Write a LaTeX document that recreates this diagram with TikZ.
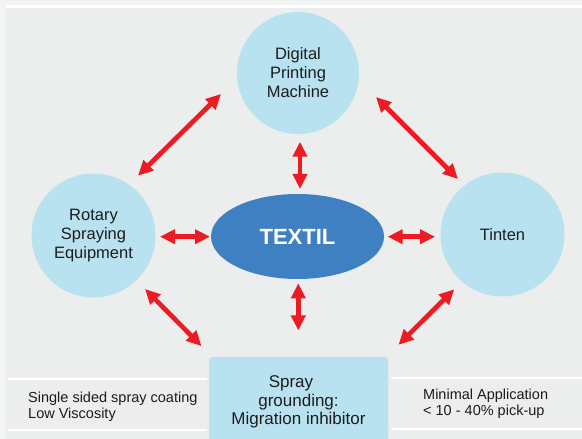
\documentclass[tikz,border=0pt]{standalone}
\usepackage{fontspec}
\setmainfont{Liberation Sans}
\usetikzlibrary{arrows.meta,calc,shapes.geometric}

\definecolor{panelgrey}{RGB}{236,237,237}
\definecolor{outergrey}{RGB}{242,243,243}
\definecolor{bubbleblue}{RGB}{185,226,240}
\definecolor{coreblue}{RGB}{62,128,193}
\definecolor{arrowred}{RGB}{237,28,36}
\definecolor{ink}{RGB}{28,28,28}

\begin{document}
\begin{tikzpicture}[x=1pt,y=1pt,
  bubble/.style={circle,fill=bubbleblue,inner sep=0pt,minimum size=124pt,
    align=center,text=ink,font=\fontsize{16.5}{19}\selectfont},
  link/.style={arrowred,line width=4.7pt,
    {Triangle[length=15pt,width=14pt]}-{Triangle[length=15pt,width=14pt]}},
  rulerline/.style={white,line width=2pt},
  note/.style={anchor=west,align=left,text=ink,inner sep=0pt,
    font=\fontsize{14.5}{16.5}\selectfont}]

\useasboundingbox (0,0) rectangle (582,439);

% background, panel and the thin white rules
\fill[outergrey] (0,0) rectangle (582,439);
\fill[white] (6,431) rectangle (582,434.3);
\fill[panelgrey] (6,0) rectangle (582,431);
\draw[rulerline] (8,60) -- (207,60);
\draw[rulerline] (8,9) -- (207,9);
\draw[rulerline] (391,61.3) -- (582,61.3);
\draw[rulerline] (391,10) -- (582,10);

% the four partners and the centre
\node[bubble,minimum size=122pt] (dpm) at (298,366) {Digital\\Printing\\Machine};
\node[bubble] (rot) at (93.5,203.5) {Rotary\\Spraying\\Equipment};
\node[bubble] (tin) at (502.5,204.5) {Tinten};
\node[ellipse,fill=coreblue,minimum width=173pt,minimum height=85pt,inner sep=0pt,
  text=white,font=\bfseries\fontsize{22}{26}\selectfont] (tex) at (297.5,202.5) {TEXTIL};
\node[rectangle,rounded corners=3pt,fill=bubbleblue,minimum width=179pt,
  minimum height=90pt,align=center,text=ink,font=\fontsize{17}{18.7}\selectfont]
  (spr) at (298.5,37) {Spray\hspace*{15pt}\\grounding:\hspace*{7pt}\\Migration inhibitor};

% side notes
\node[note] (left) at (28,32.3) {Single sided spray coating\\Low Viscosity};
\node[note] (right) at (423,35) {Minimal Application\\{<} 10 - 40\% pick-up};

% double-headed links
\draw[link] ($(rot)+(44.5,59.8)$) -- ($(dpm)+(-77,-21)$);
\draw[link] ($(dpm)+(78,-24)$) -- ($(tin)+(-44.5,55.5)$);
\draw[link] ($(dpm)+(2,-68.7)$) -- ($(tex)+(2.5,47.5)$);
\draw[link] ($(rot)+(66.5,-1.2)$) -- ($(tex)+(-87.5,-0.2)$);
\draw[link] ($(tex)+(90.2,-0.2)$) -- ($(tin)+(-67.5,-2.2)$);
\draw[link] ($(tex)+(0.8,-46.8)$) -- ($(spr.north)+(-0.2,26.3)$);
\draw[link] ($(rot)+(51.5,-53.5)$) -- ($(spr.north west)+(-7.3,10.7)$);
\draw[link] ($(tin)+(-48.2,-54.8)$) -- ($(spr.north east)+(10.3,12)$);
\end{tikzpicture}
\end{document}
